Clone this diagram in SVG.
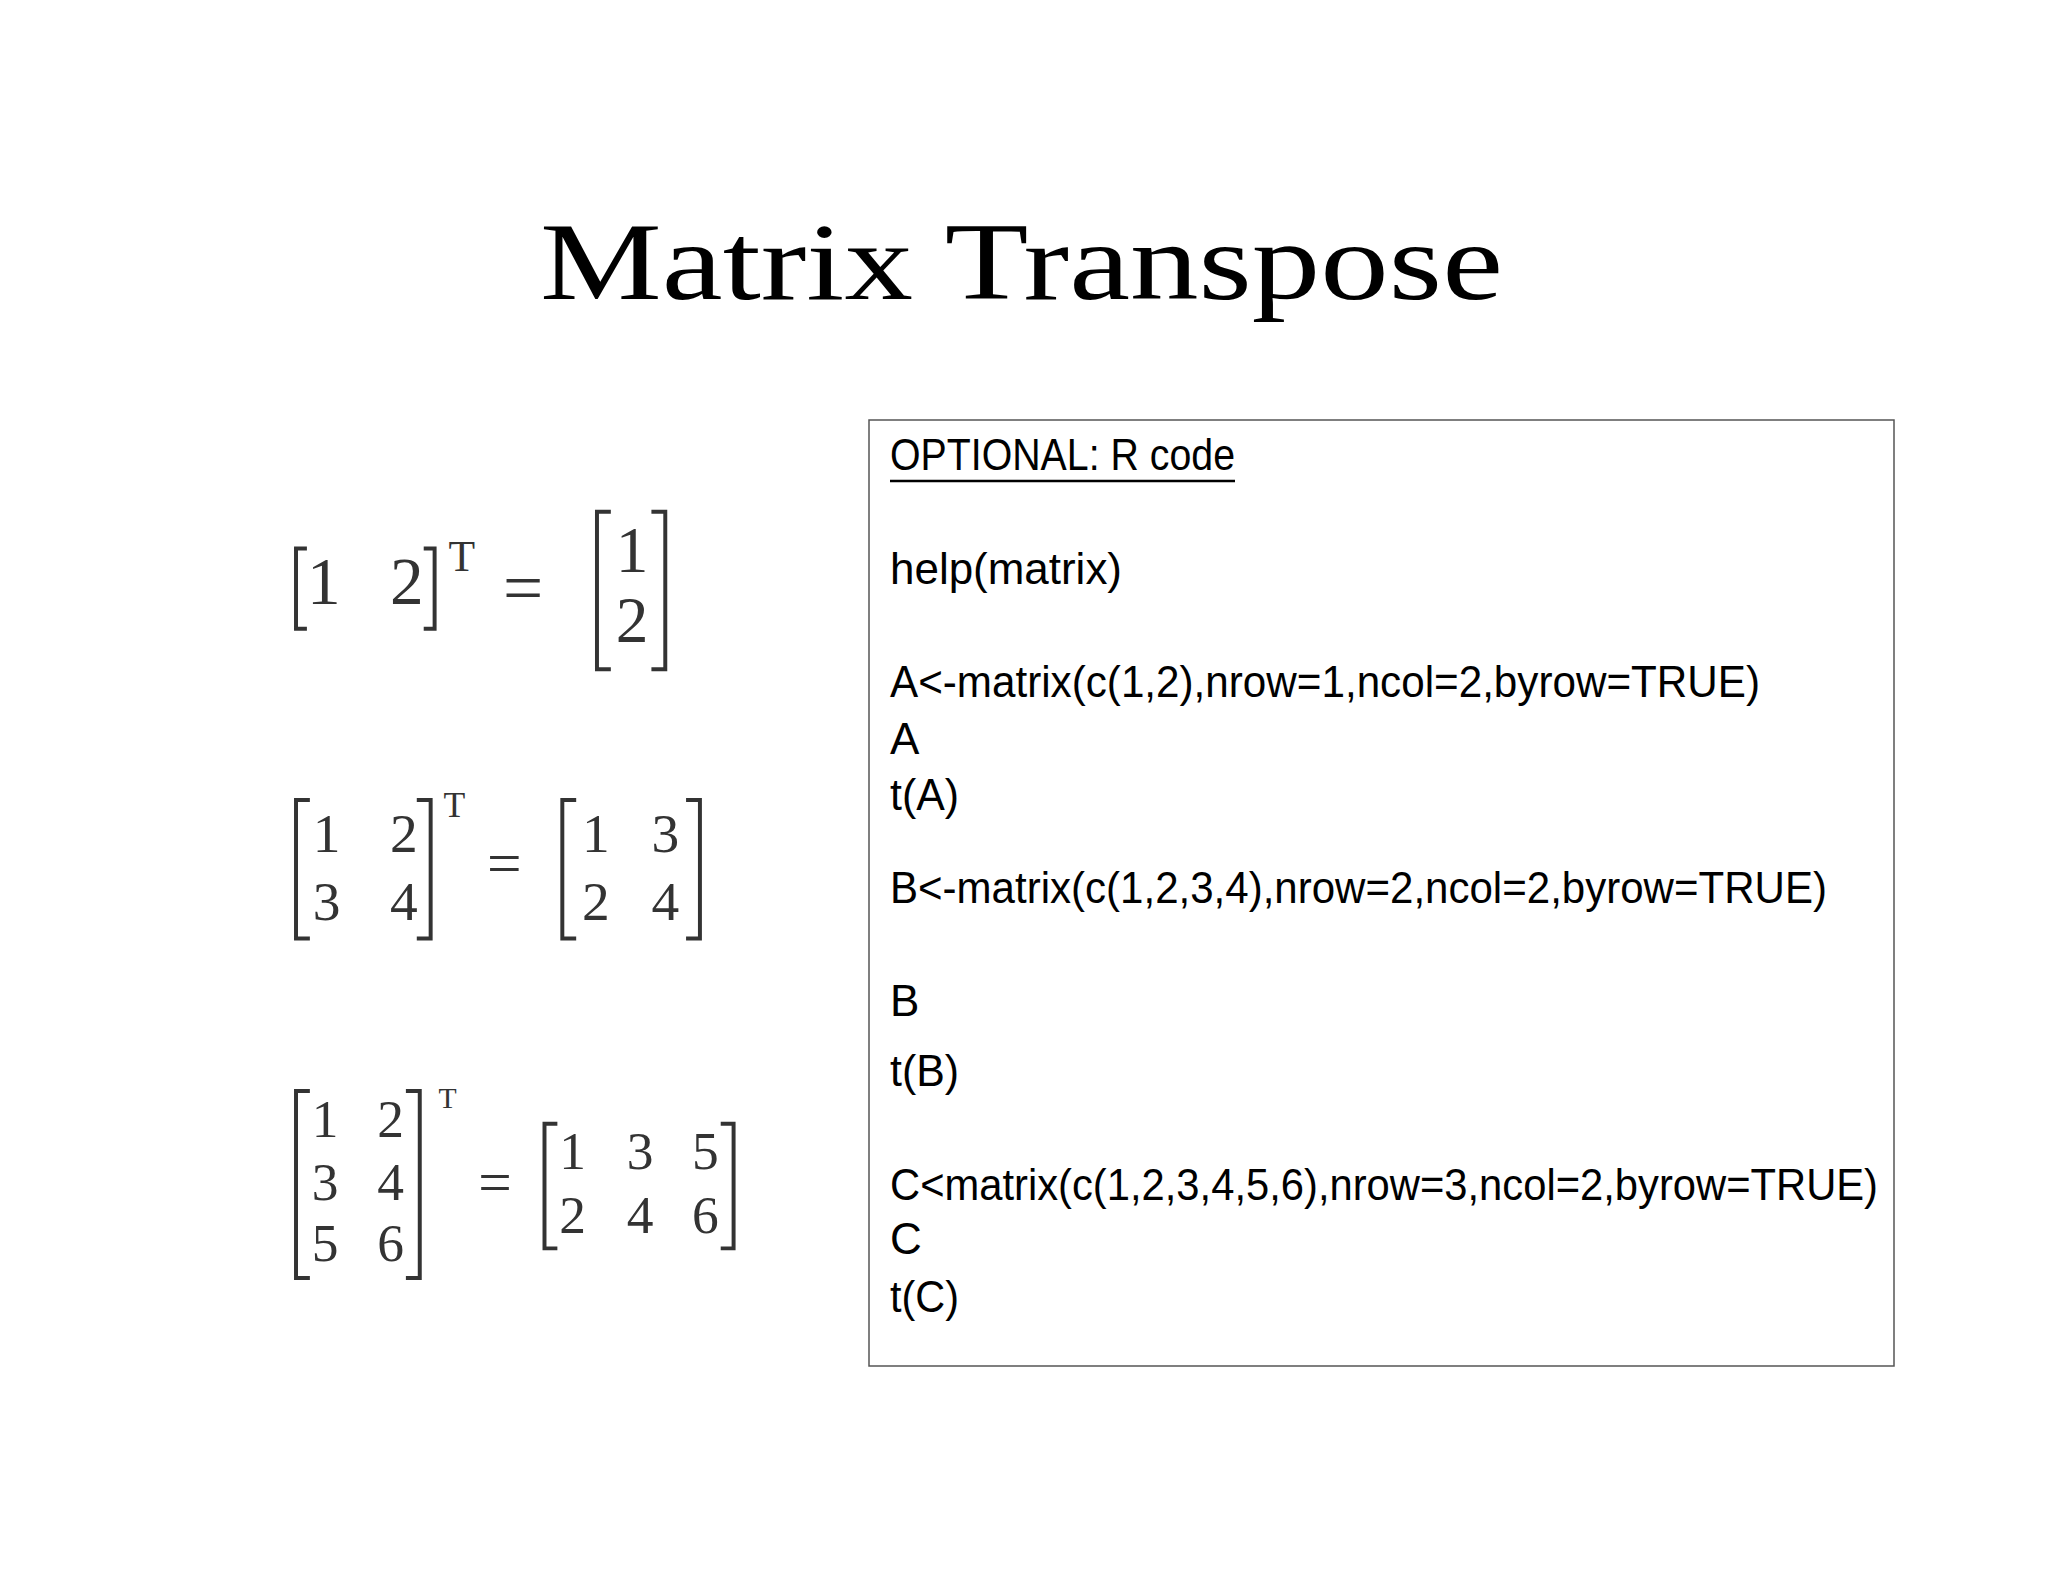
<svg xmlns="http://www.w3.org/2000/svg" width="2048" height="1582" viewBox="0 0 2048 1582">
<style>
.t{font-family:"Liberation Serif","DejaVu Serif",serif;fill:#000}
.m{font-family:"Liberation Serif","DejaVu Serif",serif;fill:#333}
.c{font-family:"Liberation Sans Narrow","Liberation Sans","DejaVu Sans",sans-serif;font-size:44px;fill:#000}
.b{fill:none;stroke:#333;stroke-width:4}
</style>
<rect width="2048" height="1582" fill="#fff"/>
<text class="t" x="540" y="299" font-size="110" textLength="963" lengthAdjust="spacingAndGlyphs">Matrix Transpose</text>
<g transform="scale(0.99)">
<g id="m1">
<path class="b" d="M310,554 H299 V635 H310 M428,554 H439 V635 H428"/>
<text class="m" x="310" y="610" font-size="68">1</text>
<text class="m" x="394" y="610" font-size="68">2</text>
<text class="m" x="453" y="577" font-size="44">T</text>
<text class="m" x="508" y="618" font-size="72">=</text>
<path class="b" d="M617,517 H603 V676 H617 M658,517 H672 V676 H658"/>
<text class="m" x="622" y="578" font-size="66">1</text>
<text class="m" x="622" y="649" font-size="66">2</text>
</g>
<g id="m2">
<path class="b" d="M313,808 H299 V948 H313 M421,808 H435 V948 H421"/>
<text class="m" x="316" y="861" font-size="56">1</text>
<text class="m" x="394" y="861" font-size="56">2</text>
<text class="m" x="316" y="929" font-size="56">3</text>
<text class="m" x="394" y="929" font-size="56">4</text>
<text class="m" x="448" y="825" font-size="36">T</text>
<text class="m" x="492" y="893" font-size="62">=</text>
<path class="b" d="M582,808 H568 V948 H582 M693,808 H707 V948 H693"/>
<text class="m" x="588" y="861" font-size="56">1</text>
<text class="m" x="658" y="861" font-size="56">3</text>
<text class="m" x="588" y="929" font-size="56">2</text>
<text class="m" x="658" y="929" font-size="56">4</text>
</g>
<g id="m3">
<path class="b" d="M313,1102 H299 V1291 H313 M410,1102 H424 V1291 H410"/>
<text class="m" x="315" y="1148" font-size="54">1</text>
<text class="m" x="381" y="1148" font-size="54">2</text>
<text class="m" x="315" y="1212" font-size="54">3</text>
<text class="m" x="381" y="1212" font-size="54">4</text>
<text class="m" x="315" y="1274" font-size="54">5</text>
<text class="m" x="381" y="1274" font-size="54">6</text>
<text class="m" x="443" y="1119" font-size="30">T</text>
<text class="m" x="483" y="1214" font-size="60">=</text>
<path class="b" d="M563,1135 H550 V1261 H563 M728,1135 H741 V1261 H728"/>
<text class="m" x="565" y="1181" font-size="54">1</text>
<text class="m" x="633" y="1181" font-size="54">3</text>
<text class="m" x="699" y="1181" font-size="54">5</text>
<text class="m" x="565" y="1245" font-size="54">2</text>
<text class="m" x="633" y="1245" font-size="54">4</text>
<text class="m" x="699" y="1245" font-size="54">6</text>
</g>
</g>
<g id="code">
<rect x="869" y="420" width="1025" height="946" fill="none" stroke="#555" stroke-width="1.5"/>
<text class="c" x="890" y="470" textLength="345" lengthAdjust="spacingAndGlyphs">OPTIONAL: R code</text>
<line x1="890" y1="481" x2="1235" y2="481" stroke="#000" stroke-width="2.5"/>
<text class="c" x="890" y="584" textLength="232" lengthAdjust="spacingAndGlyphs">help(matrix)</text>
<text class="c" x="890" y="697" textLength="870" lengthAdjust="spacingAndGlyphs">A&lt;-matrix(c(1,2),nrow=1,ncol=2,byrow=TRUE)</text>
<text class="c" x="890" y="754">A</text>
<text class="c" x="890" y="810" textLength="69" lengthAdjust="spacingAndGlyphs">t(A)</text>
<text class="c" x="890" y="903" textLength="937" lengthAdjust="spacingAndGlyphs">B&lt;-matrix(c(1,2,3,4),nrow=2,ncol=2,byrow=TRUE)</text>
<text class="c" x="890" y="1016">B</text>
<text class="c" x="890" y="1086" textLength="69" lengthAdjust="spacingAndGlyphs">t(B)</text>
<text class="c" x="890" y="1200" textLength="988" lengthAdjust="spacingAndGlyphs">C&lt;matrix(c(1,2,3,4,5,6),nrow=3,ncol=2,byrow=TRUE)</text>
<text class="c" x="890" y="1254">C</text>
<text class="c" x="890" y="1312" textLength="69" lengthAdjust="spacingAndGlyphs">t(C)</text>
</g>
</svg>
